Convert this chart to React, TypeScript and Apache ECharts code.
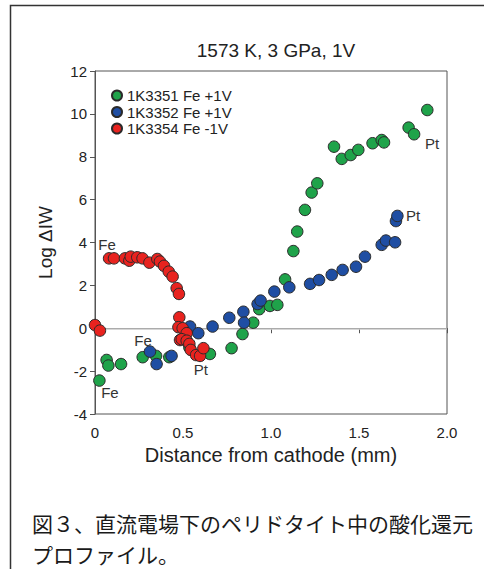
import React, { useEffect, useRef } from "react";
import * as echarts from "echarts";

const seriesNames = ["1K3351 Fe +1V", "1K3352 Fe +1V", "1K3354 Fe -1V"];
const seriesColors = ["#1fa34a", "#1f4ea3", "#e8231f"];

const green: [number, number][] = [
  [0.025, -2.44], [0.066, -1.48], [0.076, -1.74], [0.148, -1.67], [0.271, -1.35],
  [0.347, -1.29], [0.422, -1.35], [0.536, -0.89], [0.653, -1.2], [0.776, -0.93],
  [0.838, -0.27], [0.899, 0.26], [0.933, 0.89], [0.994, 1.04], [1.036, 1.09],
  [1.08, 2.28], [1.127, 3.6], [1.149, 4.51], [1.193, 5.52], [1.231, 6.33],
  [1.263, 6.76], [1.358, 8.47], [1.402, 7.9], [1.453, 8.08], [1.496, 8.32],
  [1.577, 8.63], [1.629, 8.78], [1.642, 8.67], [1.782, 9.36], [1.813, 9.05],
  [1.888, 10.18],
];

const blue: [number, number][] = [
  [0.3125, -1.09], [0.35, -1.67], [0.435, -1.29], [0.54, 0.08], [0.587, -0.23],
  [0.668, 0.08], [0.763, 0.49], [0.843, 0.77], [0.847, 0.26], [0.924, 1.13],
  [0.941, 1.29], [1.019, 1.71], [1.104, 1.91], [1.222, 2.07], [1.273, 2.25],
  [1.345, 2.49], [1.407, 2.72], [1.483, 2.87], [1.534, 3.34], [1.629, 3.89],
  [1.653, 4.09], [1.705, 4.01], [1.71, 5.0], [1.718, 5.24],
];

const red: [number, number][] = [
  [0.0, 0.15], [0.028, -0.11], [0.08, 3.26], [0.108, 3.26], [0.17, 3.26],
  [0.195, 3.15], [0.203, 3.34], [0.24, 3.31], [0.27, 3.26], [0.309, 3.06],
  [0.354, 3.23], [0.369, 3.11], [0.392, 2.91], [0.419, 2.64], [0.441, 2.41],
  [0.464, 1.87], [0.477, 1.6], [0.479, 0.51], [0.474, 0.05], [0.498, 0.0],
  [0.521, -0.23], [0.483, -0.55], [0.493, -0.51], [0.521, -0.58], [0.536, -0.73],
  [0.544, -1.01], [0.574, -1.25], [0.597, -1.29], [0.616, -0.93],
];

const annotations: { name: string; value: [number, number] }[] = [
  { name: "Fe", value: [0.068, 3.93] },
  { name: "Fe", value: [0.273, -0.59] },
  { name: "Pt", value: [0.602, -1.94] },
  { name: "Fe", value: [0.085, -3.02] },
  { name: "Pt", value: [1.915, 8.64] },
  { name: "Pt", value: [1.807, 5.26] },
];

const titleText = "1573 K, 3 GPa, 1V";
const xAxisName = "Distance from cathode (mm)";
const yAxisName = "Log ΔIW";
const captionLines = ["図３、直流電場下のペリドタイト中の酸化還元", "プロファイル。"];

const FONT = "'Liberation Sans', Arial, sans-serif";

export default function App() {
  const ref = useRef<HTMLDivElement>(null);
  useEffect(() => {
    if (!ref.current) return;
    const chart = echarts.init(ref.current, undefined, { renderer: "svg" });
    const dataSets = [green, blue, red];
    const baseGraphics: any[] = [
      {
        id: "frame",
        type: "rect",
        shape: { x: 10.5, y: 5.5, width: 600, height: 700 },
        style: { fill: "none", stroke: "#333", lineWidth: 1.5 },
        silent: true,
      },
      {
        id: "caption",
        type: "text",
        left: 32,
        top: 507,
        style: {
          text: captionLines.join("\n"),
          font: "21px 'Noto Sans CJK JP', sans-serif",
          lineHeight: 31,
          fill: "#1a1a1a",
        },
      },
    ];
    chart.setOption({
      animation: false,
      backgroundColor: "#ffffff",
      title: {
        text: titleText,
        left: 271,
        top: 36,
        textAlign: "center",
        textStyle: { fontFamily: FONT, fontSize: 19, fontWeight: "normal", color: "#222" },
      },
      legend: {
        left: 106,
        top: 83,
        orient: "vertical",
        itemWidth: 10,
        itemHeight: 10,
        itemGap: 1.5,
        textStyle: { fontFamily: FONT, fontSize: 15, color: "#222" },
        data: seriesNames,
      },
      grid: {
        left: 95,
        top: 71,
        width: 352,
        height: 343,
        show: true,
        borderColor: "#555",
        borderWidth: 1,
        containLabel: false,
      },
      xAxis: {
        type: "value",
        min: 0,
        max: 2,
        interval: 0.5,
        name: xAxisName,
        nameLocation: "middle",
        nameGap: 29,
        nameTextStyle: { fontFamily: FONT, fontSize: 20, color: "#222" },
        axisLine: { show: true, lineStyle: { color: "#555" } },
        axisTick: { show: true, length: 5, lineStyle: { color: "#555" } },
        splitLine: { show: false },
        axisLabel: {
          fontFamily: FONT,
          fontSize: 15,
          color: "#222",
          margin: 11,
          formatter: (v: number) => (v === 0 ? "0" : v.toFixed(1)),
        },
      },
      yAxis: {
        type: "value",
        min: -4,
        max: 12,
        interval: 2,
        name: yAxisName,
        nameLocation: "middle",
        nameGap: 40,
        nameRotate: 90,
        nameTextStyle: { fontFamily: FONT, fontSize: 19, color: "#222" },
        axisLine: { show: true, lineStyle: { color: "#555" } },
        axisTick: { show: true, length: 5, lineStyle: { color: "#555" } },
        splitLine: { show: false },
        axisLabel: { fontFamily: FONT, fontSize: 15, color: "#222", margin: 8 },
      },
      series: seriesNames.map((n, i) => ({
        name: n,
        type: "scatter",
        data: dataSets[i],
        symbol: "circle",
        symbolSize: 11.5,
        itemStyle: { color: seriesColors[i], borderColor: "#2a2a2a", borderWidth: 1, opacity: 1 },
        z: 3,
        markLine:
          i === 0
            ? {
                silent: true,
                symbol: "none",
                label: { show: false },
                lineStyle: { color: "#c8c8c8", width: 1.5, type: "solid" },
                data: [{ yAxis: 0 }],
                z: 1,
              }
            : undefined,
      })),
      graphic: baseGraphics,
    });
    const annoGraphics = annotations.map((a, k) => {
      const p = chart.convertToPixel({ gridIndex: 0 }, a.value) as number[];
      return {
        id: "anno" + k,
        type: "text",
        x: p[0],
        y: p[1],
        z: 10,
        style: {
          text: a.name,
          font: "15px 'Liberation Sans', Arial, sans-serif",
          fill: "#333333",
          align: "center",
          verticalAlign: "middle",
        },
      };
    });
    chart.setOption({ graphic: [...baseGraphics, ...annoGraphics] });
    return () => chart.dispose();
  }, []);
  return (
    <div
      ref={ref}
      style={{ position: "fixed", left: 0, top: 0, width: 484, height: 569, background: "#fff" }}
    />
  );
}
